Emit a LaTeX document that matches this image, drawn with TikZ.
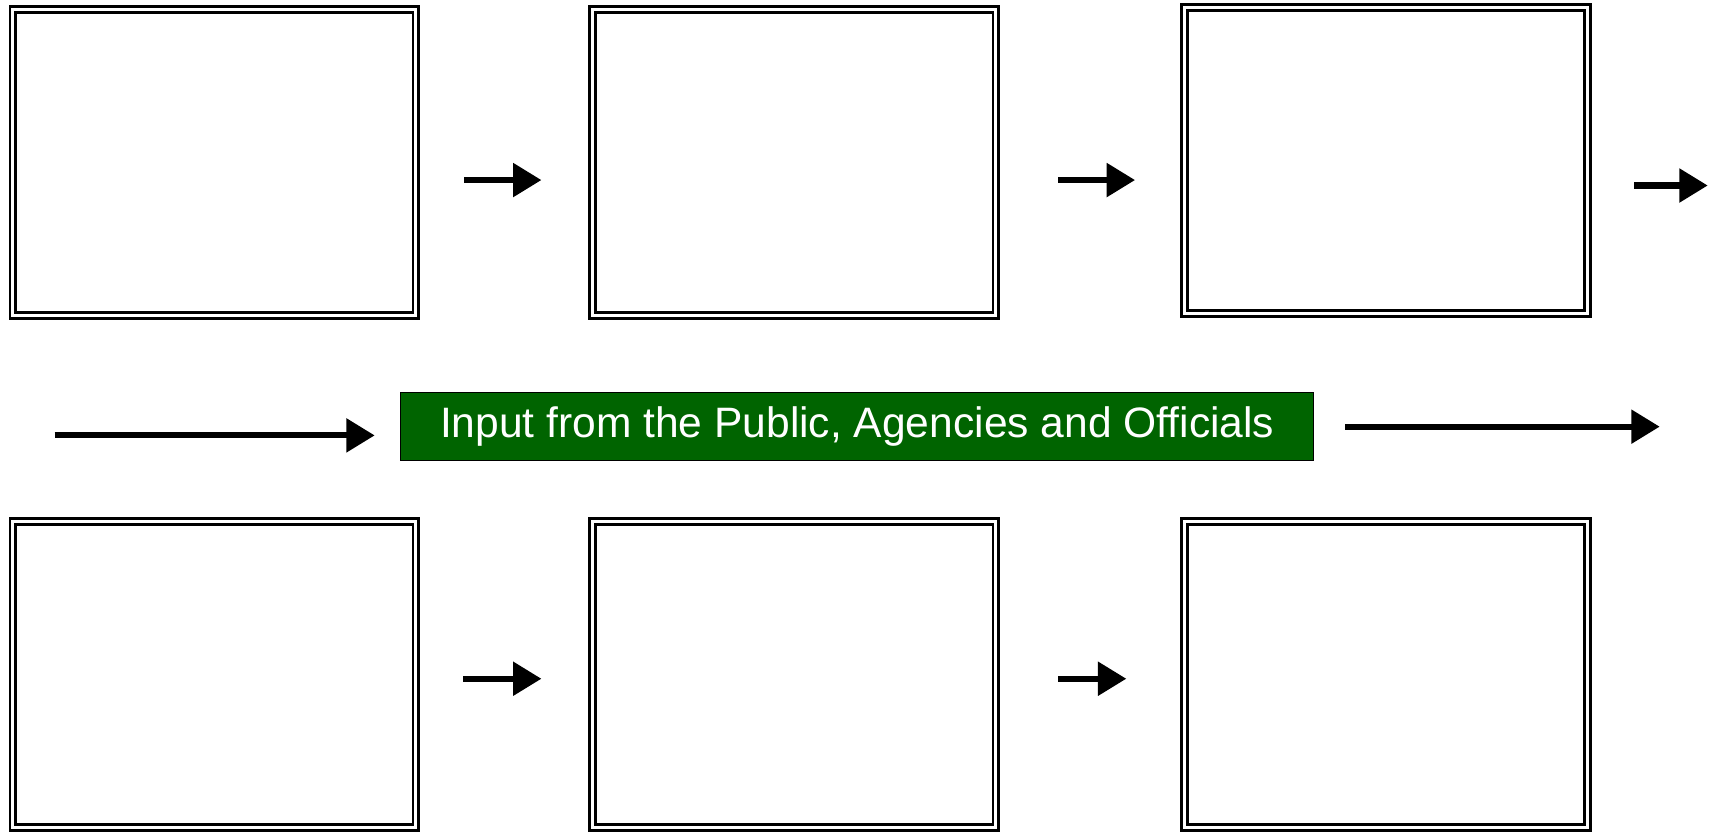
\documentclass[tikz,border=0pt]{standalone}
\usepackage{fontspec}
\setmainfont{Liberation Sans}
\usetikzlibrary{arrows.meta}
\definecolor{inputgreen}{RGB}{0,100,0}
\tikzset{
  stagebox/.style={rectangle,draw=black,double=white,double distance=1.4pt,line width=1.3pt,minimum width=184.7pt,minimum height=140.2pt,inner sep=0pt},
  inputbox/.style={rectangle,draw=black,fill=inputgreen,line width=0.6pt,minimum width=418.5pt,minimum height=31pt,inner sep=0pt,text=white,font=\fontsize{19.5}{22}\selectfont},
  flow/.style={line width=2.8pt,-{Triangle[length=13pt,width=15pt]}}
}
\begin{document}
\begin{tikzpicture}[x=0.5pt,y=-0.5pt]
\useasboundingbox (0,0) rectangle (1568,762);
\node[stagebox] (s1) at (196.5,149){};
\node[stagebox] (s2) at (728,149){};
\node[stagebox] (s3) at (1270,147){};
\node[stagebox] (s4) at (196.5,618){};
\node[stagebox] (s5) at (728,618){};
\node[stagebox] (s6) at (1270,618){};
\node[inputbox] (input) at (785.5,391){Input from the Public, Agencies and Officials};
\coordinate (next) at (1565,170);
\coordinate (src) at (50,399);
\coordinate (out) at (1521,391);
\draw[flow] ([xshift=21.4pt,yshift=-8pt]s1.east)--([xshift=-22.9pt,yshift=-8pt]s2.west);
\draw[flow] ([xshift=27.9pt,yshift=-8pt]s2.east)--([xshift=-21.9pt,yshift=-9pt]s3.west);
\draw[flow] ([xshift=20.9pt,yshift=-11.5pt]s3.east)--(next);
\draw[flow] (src)--([xshift=-11.5pt,yshift=-4pt]input.west);
\draw[flow] ([xshift=14pt]input.east)--(out);
\draw[flow] ([xshift=20.9pt,yshift=-2pt]s4.east)--([xshift=-22.9pt,yshift=-2pt]s5.west);
\draw[flow] ([xshift=27.9pt,yshift=-2pt]s5.east)--([xshift=-25.9pt,yshift=-2pt]s6.west);
\end{tikzpicture}
\end{document}
